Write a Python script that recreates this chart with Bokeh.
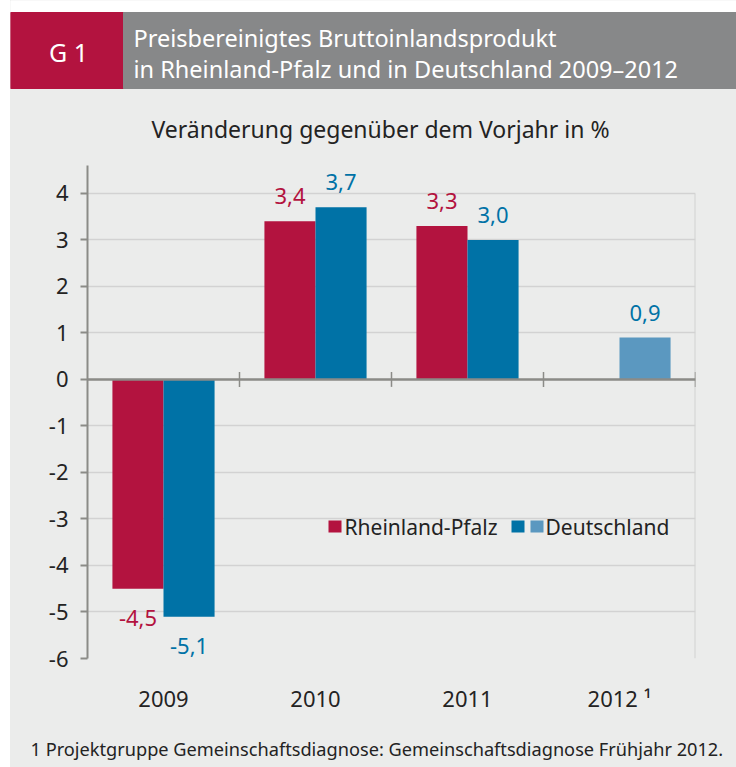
from bokeh.plotting import figure
from bokeh.models import (ColumnDataSource, FactorRange, Range1d, FixedTicker, Span,
                          BoxAnnotation, Label, Spacer)
from bokeh.transform import dodge
from bokeh.layouts import column, row
from bokeh.embed import file_html
from bokeh.resources import INLINE
from bokeh.core.properties import value

# ---------------- data ----------------
years = ["2009", "2010", "2011", "2012 ¹"]
rlp = [-4.5, 3.4, 3.3, float("nan")]
de = [-5.1, 3.7, 3.0, 0.9]
forecast = [False, False, False, True]
y_ticks = [-6, -5, -4, -3, -2, -1, 0, 1, 2, 3, 4]
y_tick_labels = ["-6", "-5", "-4", "-3", "-2", "-1", "0", "1", "2", "3", "4"]
series_names = ["Rheinland-Pfalz", "Deutschland"]

title_tag = "G 1"
title_lines = ["Preisbereinigtes Bruttoinlandsprodukt",
               "in Rheinland-Pfalz und in Deutschland 2009–2012"]
subtitle = "Veränderung gegenüber dem Vorjahr in %"
footnote = "1 Projektgruppe Gemeinschaftsdiagnose: Gemeinschaftsdiagnose Frühjahr 2012."

# ---------------- style ----------------
RED = "#b3133f"
BLUE = "#0072a6"
LBLUE = "#5b98c0"
HGRAY = "#878889"
BG = "#ebeceb"
AXIS = "#8b8b87"
GRID = "#d2d2d2"
TXT = "#232323"
FONT = "Noto Sans"
LEFT = 10
W = 736 - LEFT
HDR_H = 150
MAIN_H = 578
FTR_H = 767 - HDR_H - MAIN_H


def panel(height):
    f = figure(width=W, height=height, x_range=Range1d(0, W), y_range=Range1d(height, 0),
               output_backend="svg", toolbar_location=None, min_border=0,
               min_border_left=0, min_border_right=0, min_border_top=0,
               min_border_bottom=0, x_axis_location=None, y_axis_location=None)
    f.grid.visible = False
    f.outline_line_color = None
    f.background_fill_color = BG
    f.border_fill_color = BG
    return f


# ---------------- header ----------------
hdr = panel(HDR_H)
hdr.quad(left=[0], right=[W], top=[0], bottom=[12], color="white")
hdr.quad(left=[0], right=[113], top=[12], bottom=[88], color=RED)
hdr.quad(left=[113], right=[W], top=[12], bottom=[88], color=HGRAY)
hdr.text(x=[58], y=[51], text=[title_tag], text_color="white", text_font=value(FONT),
         text_font_size="25px", text_align="center", text_baseline="middle")
hdr.text(x=[123, 123], y=[37, 68], text=title_lines, text_color="white",
         text_font=value(FONT), text_font_size="23.5px", text_align="left",
         text_baseline="middle")
hdr.text(x=[370], y=[128], text=[subtitle], text_color=TXT, text_font=value(FONT),
         text_font_size="23px", text_align="center", text_baseline="middle")

# ---------------- footer ----------------
ftr = panel(FTR_H)
ftr.text(x=[20], y=[20], text=[footnote], text_color=TXT, text_font=value(FONT),
         text_font_size="18.2px", text_align="left", text_baseline="middle")

# ---------------- main figure ----------------
p = figure(width=W, height=MAIN_H, x_range=FactorRange(factors=years),
           y_range=Range1d(-6, 4.6), output_backend="svg", toolbar_location=None,
           min_border_left=87 - LEFT, min_border_right=41, min_border_top=15,
           min_border_bottom=MAIN_H - 15 - 493)
p.background_fill_color = BG
p.border_fill_color = BG
p.outline_line_color = None

p.xgrid.visible = False
p.ygrid.ticker = FixedTicker(ticks=y_ticks)
p.ygrid.grid_line_color = GRID
p.ygrid.grid_line_width = 1.5

p.yaxis.ticker = FixedTicker(ticks=y_ticks)
p.yaxis.major_label_overrides = {t: l for t, l in zip(y_ticks, y_tick_labels)}
p.yaxis.axis_line_color = AXIS
p.yaxis.axis_line_width = 2
p.yaxis.major_tick_line_color = AXIS
p.yaxis.major_tick_line_width = 2
p.yaxis.major_tick_out = 7
p.yaxis.major_tick_in = 0
p.yaxis.minor_tick_line_color = None
p.yaxis.major_label_standoff = 12
p.yaxis.major_label_text_font = FONT
p.yaxis.major_label_text_font_size = "22px"
p.yaxis.major_label_text_color = TXT

p.xaxis.axis_line_color = None
p.xaxis.major_tick_line_color = None
p.xaxis.minor_tick_line_color = None
p.xaxis.major_label_standoff = 18
p.xaxis.major_label_text_font = FONT
p.xaxis.major_label_text_font_size = "22px"
p.xaxis.major_label_text_color = TXT

n = len(years)
# right border
p.segment(x0=[n], y0=[y_ticks[0]], x1=[n], y1=[y_ticks[-1]], line_color=GRID, line_width=2)

OFF = 0.168
BW = 0.336
de_colors = [LBLUE if f else BLUE for f in forecast]
src = ColumnDataSource(dict(year=years, rlp=rlp, de=de, de_color=de_colors))
p.vbar(x=dodge("year", -OFF, range=p.x_range), top="rlp", bottom=0, width=BW,
       fill_color=RED, line_color=None, source=src)
p.vbar(x=dodge("year", OFF, range=p.x_range), top="de", bottom=0, width=BW,
       fill_color="de_color", line_color=None, source=src)

# zero line with category separators
p.add_layout(Span(location=0, dimension="width", line_color=AXIS, line_width=2.5))
bounds = list(range(1, n + 1))
p.segment(x0=bounds, y0=[-0.16] * n, x1=bounds, y1=[0.16] * n, line_color=AXIS,
          line_width=1.5)


def fmt(v):
    return f"{v:.1f}".replace(".", ",")


def add_labels(vals, off, color):
    pos = [(y, v) for y, v in zip(years, vals) if v == v and v >= 0]
    neg = [(y, v) for y, v in zip(years, vals) if v == v and v < 0]
    for items, yoff in ((pos, -25), (neg, 29)):
        if not items:
            continue
        s = ColumnDataSource(dict(year=[i[0] for i in items], v=[i[1] for i in items],
                                  t=[fmt(i[1]) for i in items]))
        p.text(x=dodge("year", off, range=p.x_range), y="v", text="t", source=s,
               text_color=color, text_font=value(FONT), text_font_size="22px",
               text_align="center", text_baseline="middle", y_offset=yoff)


add_labels(rlp, -OFF, RED)
add_labels(de, OFF, BLUE)

# legend (custom, screen units relative to frame)
for l, r, c in ((241, 254, RED), (424, 437, BLUE), (443, 456, LBLUE)):
    p.add_layout(BoxAnnotation(left=l, right=r, bottom=126, top=138,
                               left_units="screen", right_units="screen",
                               bottom_units="screen", top_units="screen",
                               fill_color=c, fill_alpha=1, line_color=None))
for x, t in ((257, series_names[0]), (458, series_names[1])):
    p.add_layout(Label(x=x, y=132, x_units="screen", y_units="screen", text=t,
                       text_font=FONT, text_font_size="21px", text_color=TXT,
                       text_baseline="middle", text_align="left"))

body = column(row(hdr), p, row(ftr))
body.styles = {"background-color": BG}
layout = row(Spacer(width=LEFT, height=767), body)
open("out.html", "w").write(file_html(layout, INLINE))
